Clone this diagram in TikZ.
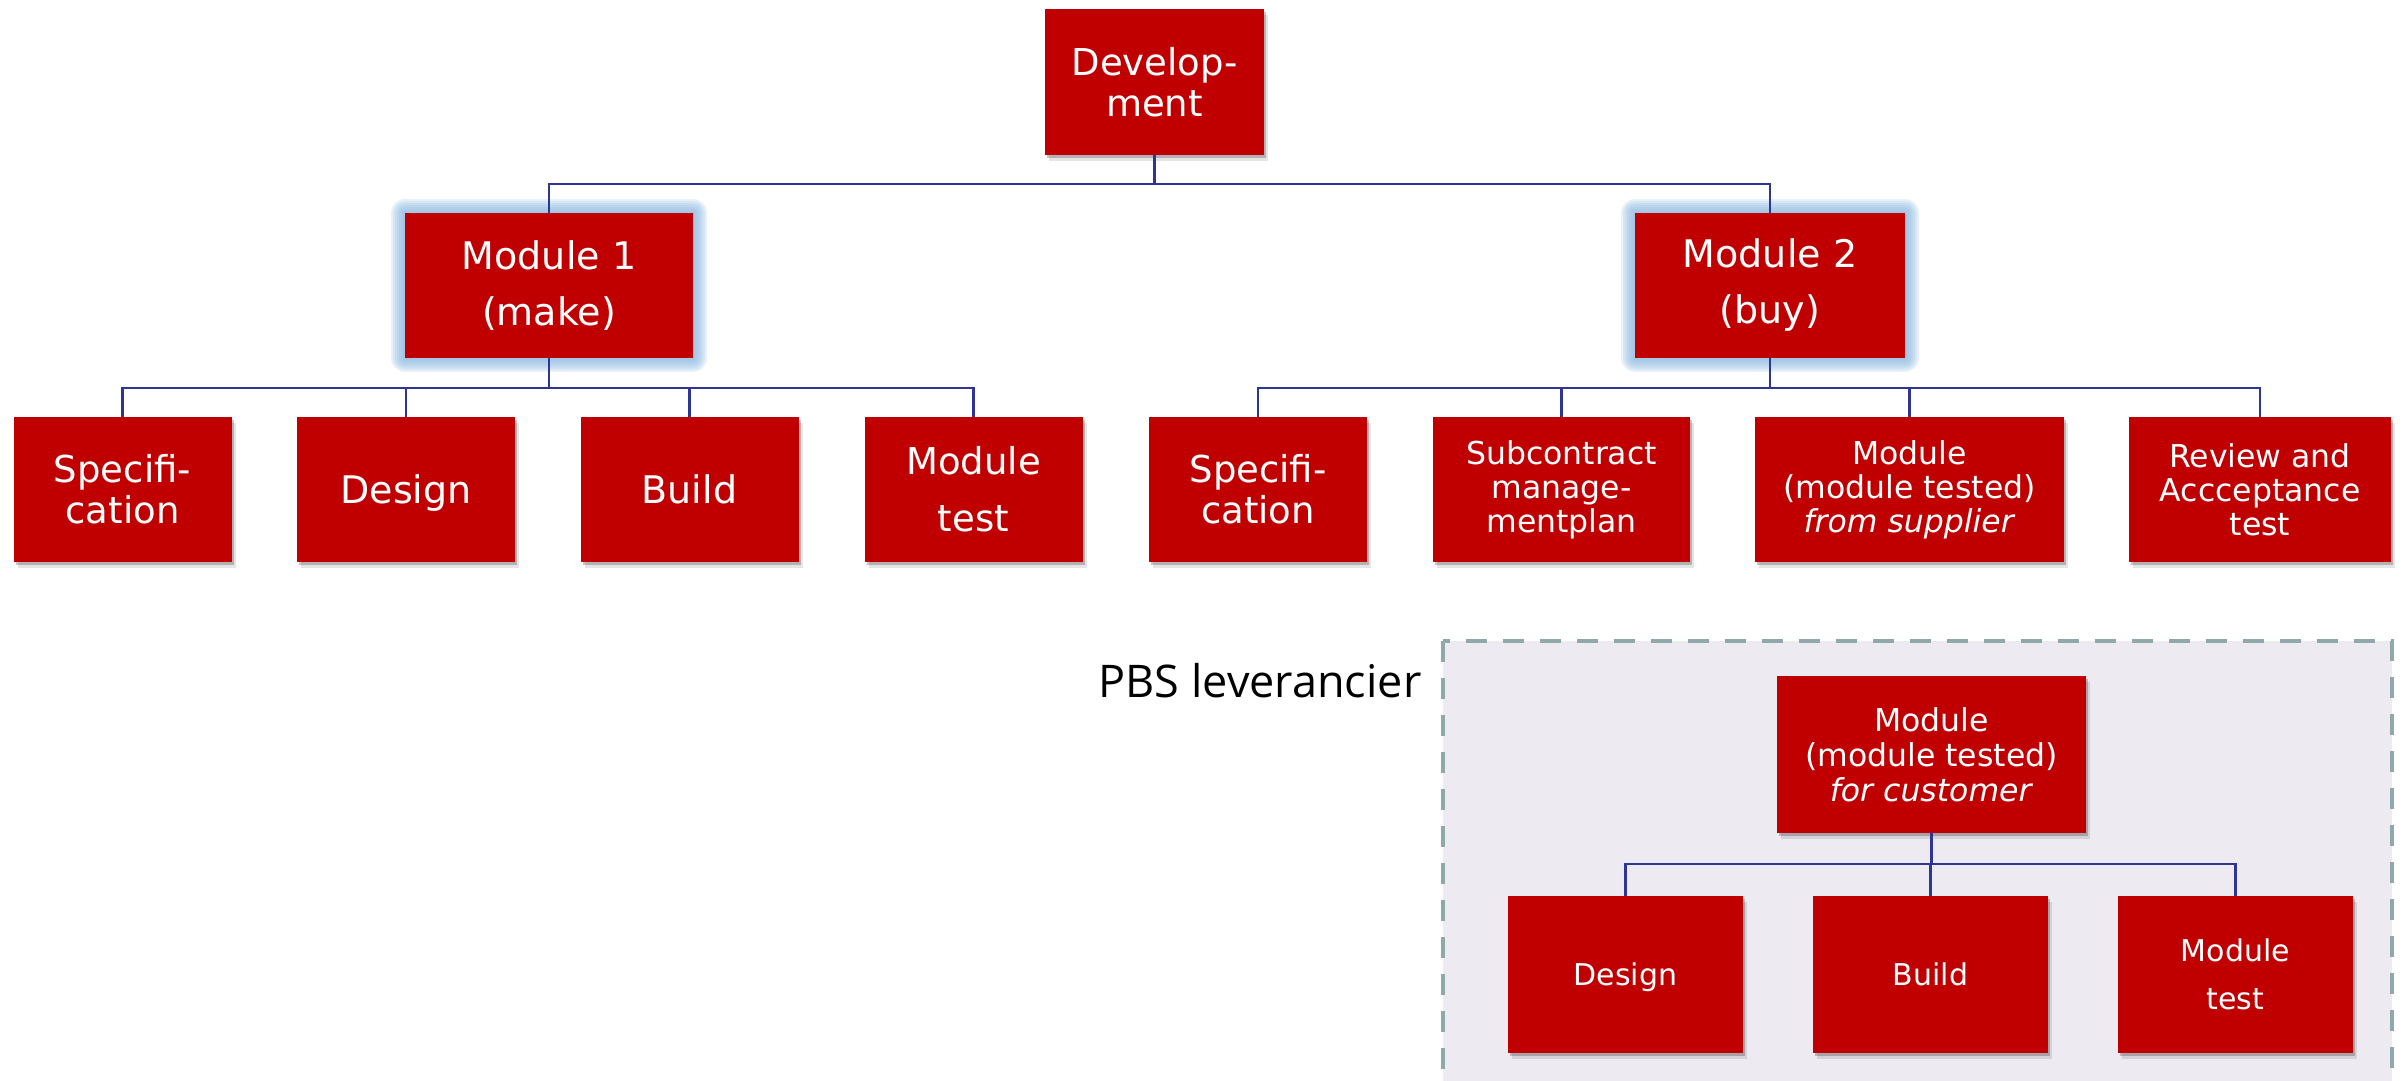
\documentclass[tikz,border=0pt]{standalone}
\usepackage{fontspec}
\setmainfont{DejaVu Sans}
\newfontfamily\pbsfont{Open Sans}
\usetikzlibrary{shadows}
\definecolor{boxred}{HTML}{C00000}
\definecolor{connblue}{HTML}{2E3592}
\definecolor{glowblue}{HTML}{8FBBE2}
\definecolor{frameline}{HTML}{8FA8AA}
\definecolor{framefill}{HTML}{EDEAF2}
\tikzset{
  box/.style={rectangle, fill=boxred, text=white, align=center, inner sep=0pt},
  shadowed/.style={drop shadow={shadow xshift=2pt, shadow yshift=-3pt, opacity=0.22, fill=black},
                   drop shadow={shadow xshift=4pt, shadow yshift=-6pt, opacity=0.10, fill=black}},
  conn/.style={draw=connblue, line width=2.5pt},
  fs/.style 2 args={font=\fontsize{#1}{#2}\selectfont},
  glowlayer/.style={fill=glowblue, opacity=0.2},
}
\begin{document}
\begin{tikzpicture}[x=1pt, y=-1pt]
\useasboundingbox (0,0) rectangle (2403,1081);
\fill[white] (0,0) rectangle (2403,1081);

% supplier frame
\draw[draw=frameline, fill=framefill, line width=4.5pt, dash pattern=on 21pt off 16pt] (1443,641) rectangle (2392,1120);
\node[font=\pbsfont\fontsize{45}{54}\selectfont, anchor=base, inner sep=0pt] (pbs) at (1260,697) {PBS leverancier};

% glows
\foreach \g in {14,12,10,8,6,4,2} {
  \fill[glowlayer, rounded corners=\g pt] ({405-\g},{213-\g}) rectangle ({693+\g},{358+\g});
  \fill[glowlayer, rounded corners=\g pt] ({1635-\g},{213-\g}) rectangle ({1905+\g},{358+\g});
}

% top levels
\node[box, shadowed, fs={37}{41}, minimum width=219pt, minimum height=146pt] (dev) at (1154.5,82) {Develop-\\ment};
\node[box, fs={38}{56}, minimum width=288pt, minimum height=145pt] (m1) at (549,285.5) {Module 1\\(make)};
\node[box, fs={38}{56}, minimum width=270pt, minimum height=145pt] (m2) at (1770,285.5) {Module 2\\(buy)};

% module 1 children
\node[box, shadowed, fs={37}{41}, minimum width=218pt, minimum height=145pt] (a1) at (122.5,489.5) {Specifi-\\cation};
\node[box, shadowed, fs={38}{46}, text depth=0pt, minimum width=218pt, minimum height=145pt] (a2) at (406,489.5) {Design};
\node[box, shadowed, fs={38}{46}, minimum width=218pt, minimum height=145pt] (a3) at (689.5,489.5) {Build};
\node[box, shadowed, fs={37}{57}, minimum width=218pt, minimum height=145pt] (a4) at (973.5,489.5) {Module\\test};

% module 2 children
\node[box, shadowed, fs={37}{41}, minimum width=218pt, minimum height=145pt] (b1) at (1258,489.5) {Specifi-\\cation};
\node[box, shadowed, fs={31.5}{34}, minimum width=257pt, minimum height=145pt] (b2) at (1561.5,489.5) {Subcontract\\manage-\\mentplan};
\node[box, shadowed, fs={31.5}{34}, minimum width=309pt, minimum height=145pt] (b3) at (1909.5,489.5) {Module\\(module tested)\\\textit{from supplier}};
\node[box, shadowed, fs={31.5}{34}, minimum width=262pt, minimum height=145pt] (b4) at (2260,489.5) {Review and\\Accceptance\\test};

% supplier PBS
\node[box, shadowed, fs={31.5}{35}, minimum width=309pt, minimum height=157pt] (c0) at (1931.5,754.5) {Module\\(module tested)\\\textit{for customer}};
\node[box, shadowed, fs={30}{40}, text depth=0pt, minimum width=235pt, minimum height=157pt] (c1) at (1625.5,974.5) {Design};
\node[box, shadowed, fs={30}{40}, minimum width=235pt, minimum height=157pt] (c2) at (1930.5,974.5) {Build};
\node[box, shadowed, fs={30}{48}, minimum width=235pt, minimum height=157pt] (c3) at (2235.5,974.5) {Module\\test};

% bus coordinates
\coordinate (busA) at (0,184);
\coordinate (busB) at (0,388);
\coordinate (busC) at (0,864);

% connectors
\draw[conn] (dev.south) -- (dev.south |- busA);
\draw[conn] (m1.north) |- (dev.south |- busA) -| (m2.north);

\draw[conn] (m1.south) -- (m1.south |- busB);
\draw[conn] (a1.north) |- (m1.south |- busB) -| (a4.north);
\draw[conn] (a2.north) -- (a2.north |- busB);
\draw[conn] (a3.north) -- (a3.north |- busB);

\draw[conn] (m2.south) -- (m2.south |- busB);
\draw[conn] (b1.north) |- (m2.south |- busB) -| (b4.north);
\draw[conn] (b2.north) -- (b2.north |- busB);
\draw[conn] (b3.north) -- (b3.north |- busB);

\draw[conn] (c0.south) -- (c0.south |- busC);
\draw[conn] (c1.north) |- (c0.south |- busC) -| (c3.north);
\draw[conn] (c2.north) -- (c2.north |- busC);
\end{tikzpicture}
\end{document}
